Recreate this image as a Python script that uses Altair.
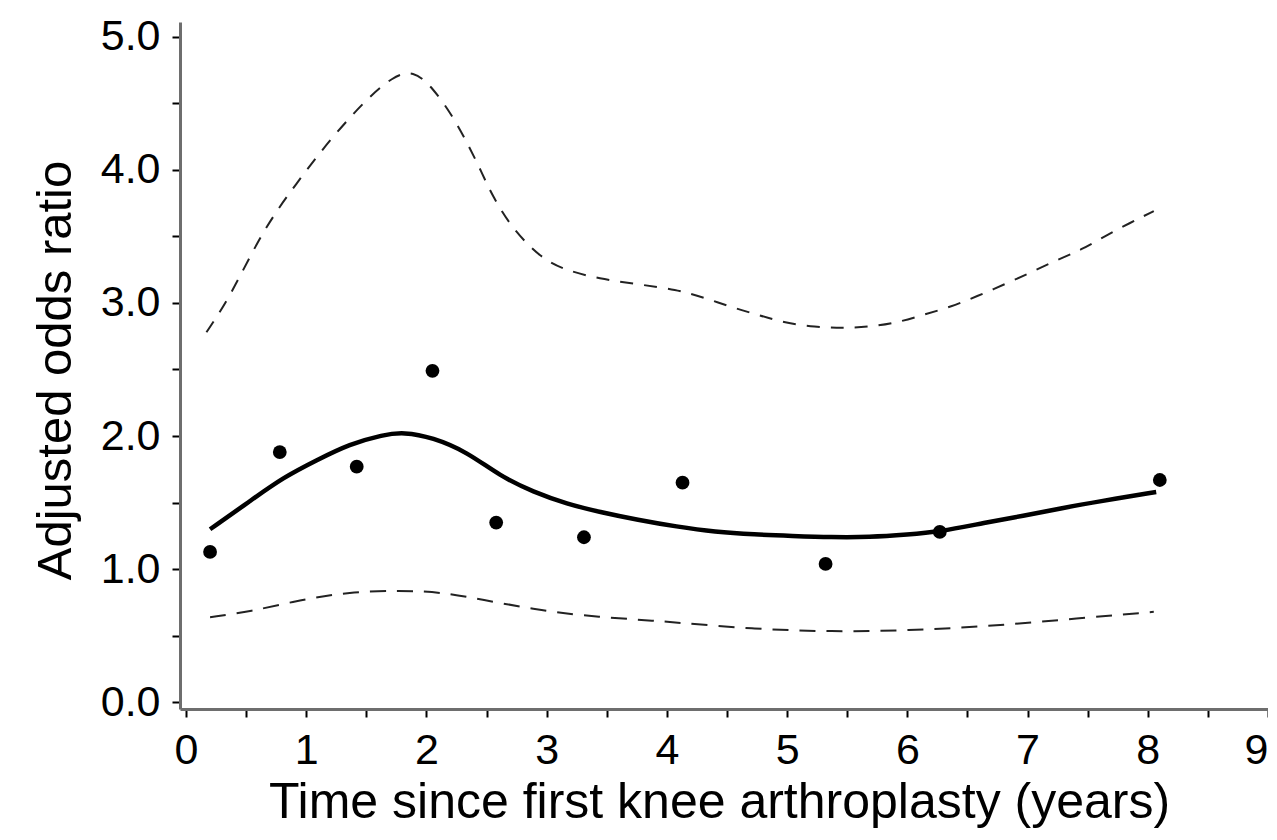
import altair as alt
import pandas as pd

# Fitted adjusted odds ratio curve
fit_x = [0.20, 0.53, 0.81, 1.09, 1.36, 1.64, 1.81, 2.05, 2.34, 2.61, 2.89, 3.17, 3.44, 3.76,
         4.08, 4.40, 4.73, 5.04, 5.37, 5.68, 6.01, 6.26, 6.65, 6.96, 7.29, 7.60, 8.07]
fit_y = [1.30, 1.51, 1.69, 1.82, 1.94, 2.01, 2.03, 1.99, 1.88, 1.70, 1.58, 1.49, 1.43, 1.37,
         1.32, 1.28, 1.26, 1.25, 1.24, 1.24, 1.26, 1.28, 1.35, 1.40, 1.46, 1.51, 1.58]

# Upper confidence limit
up_x = [0.17, 0.37, 0.64, 0.92, 1.20, 1.50, 1.72, 1.89, 2.05, 2.22, 2.34, 2.45, 2.55, 2.72,
        2.95, 3.14, 3.44, 3.76, 4.08, 4.31, 4.53, 4.76, 4.98, 5.23, 5.46, 5.68, 5.91, 6.13,
        6.36, 6.58, 6.81, 7.03, 7.24, 7.45, 7.64, 7.85, 8.05]
up_y = [2.78, 3.05, 3.55, 3.90, 4.23, 4.53, 4.70, 4.75, 4.62, 4.40, 4.20, 4.00, 3.80, 3.55,
        3.34, 3.25, 3.18, 3.14, 3.10, 3.04, 2.97, 2.91, 2.85, 2.82, 2.81, 2.82, 2.85, 2.91,
        2.97, 3.05, 3.14, 3.23, 3.32, 3.40, 3.50, 3.60, 3.69]

# Lower confidence limit
lo_x = [0.20, 0.53, 0.95, 1.36, 1.78, 2.11, 2.47, 2.89, 3.30, 3.78, 4.08, 4.73, 5.37, 6.01,
        6.65, 7.29, 8.05]
lo_y = [0.64, 0.68, 0.77, 0.83, 0.84, 0.83, 0.77, 0.70, 0.65, 0.62, 0.60, 0.55, 0.53, 0.54,
        0.57, 0.62, 0.68]

# Observed points
pt_x = [0.20, 0.78, 1.42, 2.05, 2.58, 3.31, 4.13, 5.32, 6.27, 8.10]
pt_y = [1.13, 1.88, 1.77, 2.49, 1.35, 1.24, 1.65, 1.04, 1.28, 1.67]

x_ticks = [i * 0.5 for i in range(19)]
y_ticks = [i * 0.5 for i in range(11)]

FONT = "Liberation Sans"

fit_df = pd.DataFrame({"t": fit_x, "v": fit_y})
up_df = pd.DataFrame({"t": up_x, "v": up_y})
lo_df = pd.DataFrame({"t": lo_x, "v": lo_y})
pt_df = pd.DataFrame({"t": pt_x, "v": pt_y})

x_scale = alt.Scale(domain=[-0.05, 9.0], nice=False, zero=False)
y_scale = alt.Scale(domain=[-0.05, 5.11], nice=False, zero=False)

x_enc = alt.X("t:Q", scale=x_scale,
              axis=alt.Axis(values=x_ticks, title="Time since first knee arthroplasty (years)",
                            titleX=539,
                            labelExpr="datum.value % 1 == 0 ? format(datum.value, 'd') : ''"))
y_enc = alt.Y("v:Q", scale=y_scale,
              axis=alt.Axis(values=y_ticks, title="Adjusted odds ratio",
                            titleY=348,
                            labelExpr="datum.value % 1 == 0 ? format(datum.value, '.1f') : ''"))

fit = alt.Chart(fit_df).mark_line(color="black", strokeWidth=4.5, interpolate="basis").encode(
    x=x_enc, y=y_enc)
upper = alt.Chart(up_df).mark_line(color="#222222", strokeWidth=2, strokeDash=[13, 11],
                                   interpolate="basis").encode(x=x_enc, y=y_enc)
lower = alt.Chart(lo_df).mark_line(color="#222222", strokeWidth=2, strokeDash=[16, 11],
                                   interpolate="basis").encode(x=x_enc, y=y_enc)
pts = alt.Chart(pt_df).mark_circle(color="black", opacity=1, size=190).encode(x=x_enc, y=y_enc)

chart = alt.layer(upper, lower, fit, pts).properties(
    width=1088, height=687,
    autosize=alt.AutoSizeParams(type="none"),
    padding={"left": 172, "top": 14, "right": 0, "bottom": 123},
).configure_view(stroke=None).configure_axis(
    grid=False,
    domainColor="#6e6e6e",
    domainWidth=3,
    tickColor="black",
    tickWidth=2,
    tickSize=8,
    labelFont=FONT,
    labelFontSize=43,
    labelColor="black",
    titleFont=FONT,
    titleFontWeight="normal",
    titleColor="black",
).configure_axisX(
    labelPadding=12,
    titleFontSize=50,
    titlePadding=5,
).configure_axisY(
    labelPadding=12,
    titleFontSize=49,
    titlePadding=20,
)

chart.save("out.html", embed_options={"renderer": "svg", "actions": False})
